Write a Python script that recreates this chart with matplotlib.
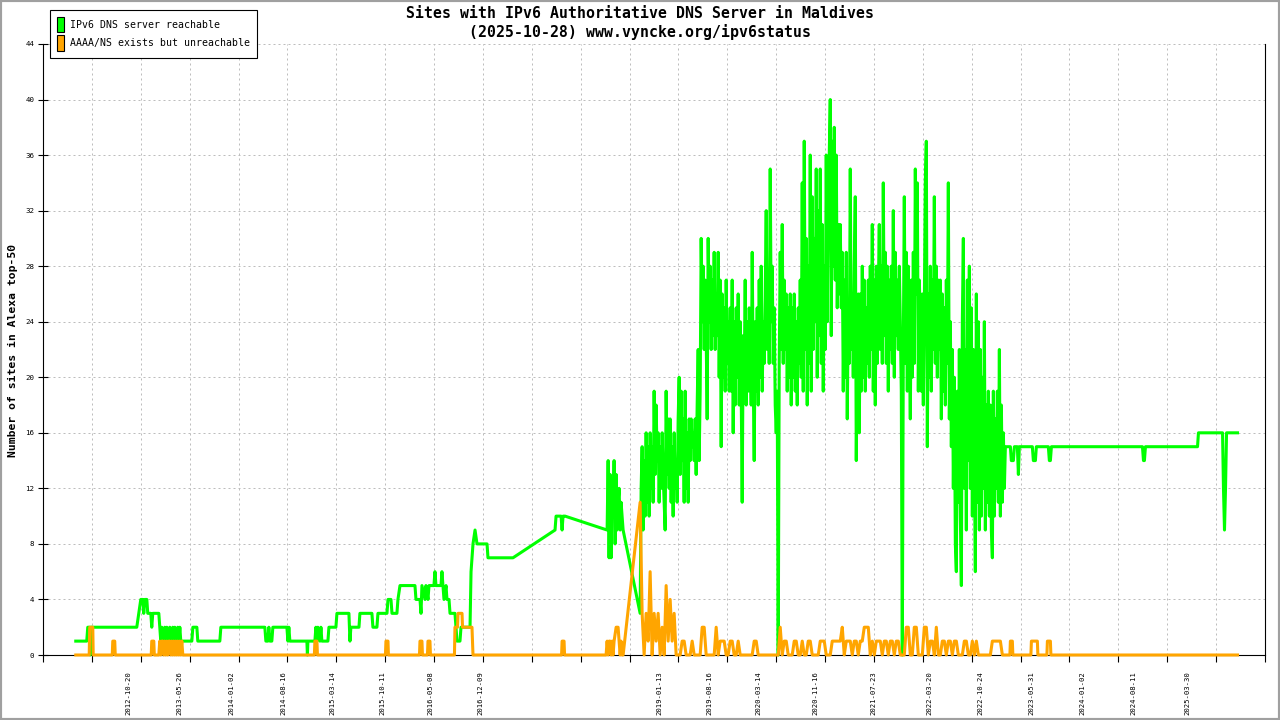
import numpy as np
import pandas as pd
import matplotlib
matplotlib.use("Agg")
import matplotlib.pyplot as plt
from matplotlib.patches import Patch, Rectangle

# Time is in decimal years, values are number of sites

# green: IPv6 DNS server reachable, sparse part up to mid 2018
green_early = [
    (2012.177, 1), (2012.306, 1), (2012.318, 2), (2012.341, 2), (2012.347, 0), (2012.353, 2),
    (2012.894, 2), (2012.918, 3), (2012.941, 4), (2012.965, 4), (2012.976, 3), (2012.988, 4),
    (2013.012, 4), (2013.023, 3), (2013.059, 3), (2013.070, 2), (2013.082, 3), (2013.153, 3),
    (2013.164, 2), (2013.176, 1), (2013.188, 2), (2013.200, 1), (2013.223, 2), (2013.235, 1),
    (2013.247, 2), (2013.270, 1), (2013.282, 2), (2013.294, 1), (2013.317, 2), (2013.329, 1),
    (2013.341, 2), (2013.353, 1), (2013.376, 2), (2013.388, 1), (2013.400, 2), (2013.411, 1),
    (2013.435, 1), (2013.541, 1), (2013.553, 2), (2013.600, 2), (2013.611, 1), (2013.870, 1),
    (2013.882, 2), (2014.399, 2), (2014.411, 1), (2014.434, 1), (2014.446, 2), (2014.458, 1),
    (2014.481, 1), (2014.493, 2), (2014.658, 2), (2014.670, 1), (2014.681, 2), (2014.693, 1),
    (2014.893, 1), (2014.899, 0), (2014.905, 1), (2014.987, 1), (2014.999, 2), (2015.011, 1),
    (2015.022, 2), (2015.046, 1), (2015.058, 2), (2015.069, 1), (2015.140, 1), (2015.152, 2),
    (2015.234, 2), (2015.246, 3), (2015.387, 3), (2015.399, 1), (2015.410, 2), (2015.505, 2),
    (2015.516, 3), (2015.657, 3), (2015.669, 2), (2015.716, 2), (2015.728, 3), (2015.834, 3),
    (2015.846, 4), (2015.881, 4), (2015.893, 3), (2015.951, 3), (2015.963, 4), (2015.987, 5),
    (2016.163, 5), (2016.175, 4), (2016.222, 4), (2016.234, 3), (2016.245, 5), (2016.281, 4),
    (2016.292, 5), (2016.316, 4), (2016.328, 5), (2016.386, 5), (2016.398, 6), (2016.410, 5),
    (2016.469, 5), (2016.480, 6), (2016.492, 5), (2016.504, 4), (2016.528, 5), (2016.539, 4),
    (2016.563, 4), (2016.575, 3), (2016.633, 3), (2016.645, 2), (2016.657, 1), (2016.692, 1),
    (2016.704, 2), (2016.810, 2), (2016.822, 6), (2016.845, 8), (2016.869, 9), (2016.892, 8),
    (2017.010, 8), (2017.021, 7), (2017.315, 7), (2017.809, 9), (2017.821, 10), (2017.880, 10),
    (2017.892, 9), (2017.903, 10), (2017.927, 10), (2018.421, 9), (2018.433, 14), (2018.444, 7),
    (2018.456, 13), (2018.468, 7), (2018.480, 12), (2018.491, 10), (2018.503, 14), (2018.515, 8),
    (2018.527, 13), (2018.538, 9), (2018.550, 11), (2018.562, 12), (2018.574, 9), (2018.585, 11),
    (2018.597, 10), (2018.609, 9),
]

# dense part from late 2018: one reading every green_step years (green) / orange_step (orange)
dense_start = 2018.809
green_step = 0.011759
orange_step = 0.023518
green_dense = [
    3, 12, 15, 9, 14, 10, 16, 11, 15, 10,
    16, 12, 15, 11, 19, 13, 18, 14, 16, 11,
    15, 12, 16, 13, 11, 9, 19, 13, 17, 12,
    17, 11, 15, 10, 16, 12, 14, 11, 17, 20,
    13, 19, 14, 17, 11, 19, 12, 16, 11, 17,
    14, 17, 15, 16, 14, 17, 13, 18, 22, 14,
    19, 30, 24, 28, 22, 27, 23, 17, 30, 24,
    28, 22, 27, 23, 29, 22, 26, 23, 29, 20,
    27, 15, 26, 20, 25, 19, 27, 21, 24, 19,
    25, 19, 27, 16, 24, 18, 25, 20, 26, 18,
    24, 19, 11, 23, 20, 27, 18, 24, 19, 25,
    22, 18, 29, 20, 14, 24, 19, 25, 18, 27,
    20, 28, 19, 24, 21, 26, 32, 22, 27, 21,
    35, 24, 28, 21, 25, 18, 16, 19, 0, 21,
    29, 22, 31, 21, 27, 22, 26, 19, 25, 20,
    26, 18, 25, 20, 26, 19, 24, 18, 25, 21,
    27, 20, 34, 19, 37, 22, 30, 18, 28, 21,
    36, 19, 33, 22, 30, 24, 35, 20, 32, 23,
    35, 21, 31, 19, 28, 22, 36, 24, 33, 36,
    40, 23, 37, 28, 38, 27, 36, 25, 31, 26,
    31, 25, 29, 19, 27, 20, 29, 17, 25, 21,
    35, 22, 26, 20, 28, 33, 14, 22, 26, 16,
    26, 19, 28, 20, 27, 19, 25, 21, 27, 20,
    28, 22, 31, 19, 27, 18, 28, 21, 26, 31,
    22, 28, 21, 34, 23, 29, 21, 28, 19, 27,
    22, 28, 21, 32, 20, 29, 23, 27, 22, 28,
    24, 19, 0, 22, 33, 21, 29, 19, 28, 23,
    17, 27, 20, 29, 21, 35, 26, 34, 19, 27,
    24, 19, 26, 18, 25, 34, 37, 15, 26, 20,
    28, 19, 27, 22, 33, 21, 28, 20, 27, 22,
    27, 17, 26, 19, 25, 18, 27, 21, 34, 17,
    24, 15, 22, 12, 20, 8, 6, 19, 11, 22,
    10, 5, 24, 30, 12, 22, 9, 27, 14, 28,
    12, 25, 10, 22, 14, 6, 26, 11, 24, 9,
    22, 10, 20, 12, 24, 9, 18, 11, 19, 10,
    18, 9, 7, 19, 10, 17, 12, 19, 11, 22,
    10, 18, 11, 16, 12,
]
orange_dense = [
    11, 3, 0, 3, 1, 6, 0, 3, 1, 3,
    0, 2, 0, 5, 1, 4, 1, 3, 0, 0,
    0, 1, 1, 0, 0, 0, 1, 0, 0, 0,
    0, 2, 2, 0, 0, 0, 0, 0, 2, 0,
    1, 1, 1, 0, 0, 1, 1, 0, 0, 1,
    0, 0, 0, 0, 0, 0, 0, 1, 1, 0,
    0, 0, 0, 0, 0, 0, 0, 0, 0, 0,
    2, 0, 1, 1, 0, 0, 0, 1, 1, 0,
    0, 1, 0, 0, 1, 1, 0, 0, 0, 0,
    1, 1, 1, 0, 0, 0, 1, 1, 1, 1,
    1, 2, 0, 1, 1, 1, 0, 1, 1, 0,
    1, 1, 2, 2, 2, 0, 1, 0, 1, 1,
    1, 0, 1, 1, 0, 1, 1, 0, 1, 1,
    0, 0, 0, 2, 2, 0, 0, 2, 2, 0,
    0, 0, 2, 2, 0, 1, 1, 0, 2, 0,
    0, 1, 1, 0, 1, 1, 0, 1, 1, 0,
    0, 0, 1, 1, 0, 0, 1, 0, 1, 0,
    0, 0, 0, 0, 0, 0, 1, 1, 1, 1,
    1, 0, 0,
]

green_late = [
    (2023.101, 15), (2023.160, 15), (2023.171, 14), (2023.195, 14), (2023.207, 15),
    (2023.242, 15), (2023.254, 13), (2023.265, 15), (2023.418, 15), (2023.430, 14),
    (2023.454, 14), (2023.465, 15), (2023.606, 15), (2023.618, 14), (2023.630, 14),
    (2023.642, 15), (2024.712, 15), (2024.724, 14), (2024.735, 14), (2024.747, 15),
    (2025.359, 15), (2025.370, 16), (2025.653, 16), (2025.664, 12), (2025.676, 9),
    (2025.688, 12), (2025.700, 16), (2025.829, 16),
]

# orange: AAAA/NS exists but unreachable
orange_early = [
    (2012.177, 0), (2012.335, 0), (2012.341, 2), (2012.377, 2), (2012.382, 0),
    (2012.606, 0), (2012.612, 1), (2012.635, 1), (2012.641, 0),
    (2013.064, 0), (2013.070, 1), (2013.094, 1), (2013.100, 0),
    (2013.153, 0), (2013.164, 1), (2013.176, 0), (2013.188, 1), (2013.200, 1), (2013.211, 0),
    (2013.223, 1), (2013.235, 0), (2013.247, 1), (2013.258, 0), (2013.270, 1), (2013.282, 1),
    (2013.294, 0), (2013.306, 1), (2013.317, 0), (2013.329, 1), (2013.341, 0), (2013.353, 1),
    (2013.364, 0), (2013.376, 1), (2013.388, 0), (2013.400, 1), (2013.411, 0), (2013.423, 1),
    (2013.435, 0),
    (2014.981, 0), (2014.987, 1), (2015.011, 1), (2015.017, 0),
    (2015.816, 0), (2015.822, 1), (2015.846, 1), (2015.851, 0),
    (2016.216, 0), (2016.222, 1), (2016.245, 1), (2016.251, 0),
    (2016.310, 0), (2016.316, 1), (2016.339, 1), (2016.345, 0),
    (2016.627, 0), (2016.633, 2), (2016.663, 2), (2016.669, 3), (2016.716, 3), (2016.722, 2),
    (2016.833, 2), (2016.845, 0),
    (2017.886, 0), (2017.892, 1), (2017.915, 1), (2017.921, 0),
    (2018.409, 0), (2018.421, 1), (2018.433, 0), (2018.444, 1), (2018.456, 1), (2018.468, 0),
    (2018.480, 1), (2018.491, 0), (2018.503, 1), (2018.527, 2), (2018.550, 2), (2018.562, 1),
    (2018.574, 0), (2018.585, 1), (2018.597, 0), (2018.609, 0),
]
orange_late = [
    (2023.101, 0), (2023.154, 0), (2023.160, 1), (2023.183, 1), (2023.189, 0),
    (2023.401, 0), (2023.407, 1), (2023.477, 1), (2023.483, 0),
    (2023.589, 0), (2023.595, 1), (2023.630, 1), (2023.636, 0), (2025.829, 0),
]

date_labels = ["2012-10-20", "2013-05-26", "2014-01-02", "2014-08-16", "2015-03-14",
               "2015-10-11", "2016-05-08", "2016-12-09", "2019-01-13", "2019-08-16",
               "2020-03-14", "2020-11-16", "2021-07-23", "2022-03-20", "2022-10-24",
               "2023-05-31", "2024-01-02", "2024-08-11", "2025-03-30"]

title_line1 = "Sites with IPv6 Authoritative DNS Server in Maldives"
title_line2 = "(2025-10-28) www.vyncke.org/ipv6status"


def to_year(s):
    d = pd.Timestamp(s)
    n = 366 if d.is_leap_year else 365
    return d.year + (d.dayofyear - 1) / n


def join(early, dense, step, late):
    dense_t = dense_start + step * np.arange(len(dense))
    t = [p[0] for p in early] + list(dense_t) + [p[0] for p in late]
    v = [p[1] for p in early] + list(dense) + [p[1] for p in late]
    return np.array(t), np.array(v)


green_t, green_v = join(green_early, green_dense, green_step, green_late)
orange_t, orange_v = join(orange_early, orange_dense, orange_step, orange_late)

MONO = "DejaVu Sans Mono"
GREEN = "#00ff00"
ORANGE = "#ffa500"

fig = plt.figure(figsize=(12.8, 7.2), dpi=100)
ax = fig.add_axes([43 / 1280, 65 / 720, 1222 / 1280, 611 / 720])

ax.plot(green_t, green_v, color=GREEN, lw=2.2, zorder=3, clip_on=False)
ax.plot(orange_t, orange_v, color=ORANGE, lw=2.2, zorder=4, clip_on=False)

x_min, x_max = 2011.792, 2026.152
ax.set_xlim(x_min, x_max)
ax.set_ylim(0, 44)

ax.set_xticks(np.linspace(x_min, x_max, 26))
ax.set_xticklabels([])
ax.set_xticks([to_year(s) for s in date_labels], minor=True)
ax.set_xticklabels(date_labels, minor=True, rotation=90, fontsize=5.2, family=MONO)
ax.set_yticks(range(0, 45, 4))
ax.set_yticklabels([str(v) for v in range(0, 45, 4)], fontsize=5.4, family=MONO)

ax.tick_params(axis="x", which="major", direction="out", length=5, width=0.8)
ax.tick_params(axis="x", which="minor", length=0, pad=11.5)
ax.tick_params(axis="y", direction="inout", length=6.5, width=0.8, pad=3)

ax.grid(True, which="major", color="#bdbdbd", linestyle=(0, (2, 3)), linewidth=0.72)
ax.set_axisbelow(True)
ax.spines["top"].set_visible(False)
for side in ("left", "bottom", "right"):
    ax.spines[side].set_linewidth(0.8)
    ax.spines[side].set_color("black")

fig.text(0.5, 1 - 13 / 720, title_line1, ha="center", va="center", fontsize=10.7,
         fontweight="bold", family=MONO)
fig.text(0.5, 1 - 32 / 720, title_line2, ha="center", va="center", fontsize=10.7,
         fontweight="bold", family=MONO)
fig.text(13 / 1280, 1 - 350 / 720, "Number of sites in Alexa top-50", rotation=90,
         ha="center", va="center", fontsize=8.2, fontweight="bold", family=MONO)

handles = [Patch(facecolor=GREEN, edgecolor="black", lw=0.8, label="IPv6 DNS server reachable"),
           Patch(facecolor=ORANGE, edgecolor="black", lw=0.8, label="AAAA/NS exists but unreachable")]
leg = fig.legend(handles=handles, loc="upper left", bbox_to_anchor=(50 / 1280, 1 - 10 / 720),
                 bbox_transform=fig.transFigure, borderaxespad=0,
                 prop={"family": MONO, "size": 7.1}, handlelength=0.7, handleheight=2.0,
                 handletextpad=0.6, labelspacing=0.3, borderpad=0.72,
                 fancybox=False, edgecolor="black", framealpha=1)
leg.get_frame().set_linewidth(0.8)

fig.patches.append(Rectangle((0, 0), 1, 1, transform=fig.transFigure, fill=False,
                             edgecolor="#a0a0a0", lw=3))

fig.savefig("out.png", dpi=100)
